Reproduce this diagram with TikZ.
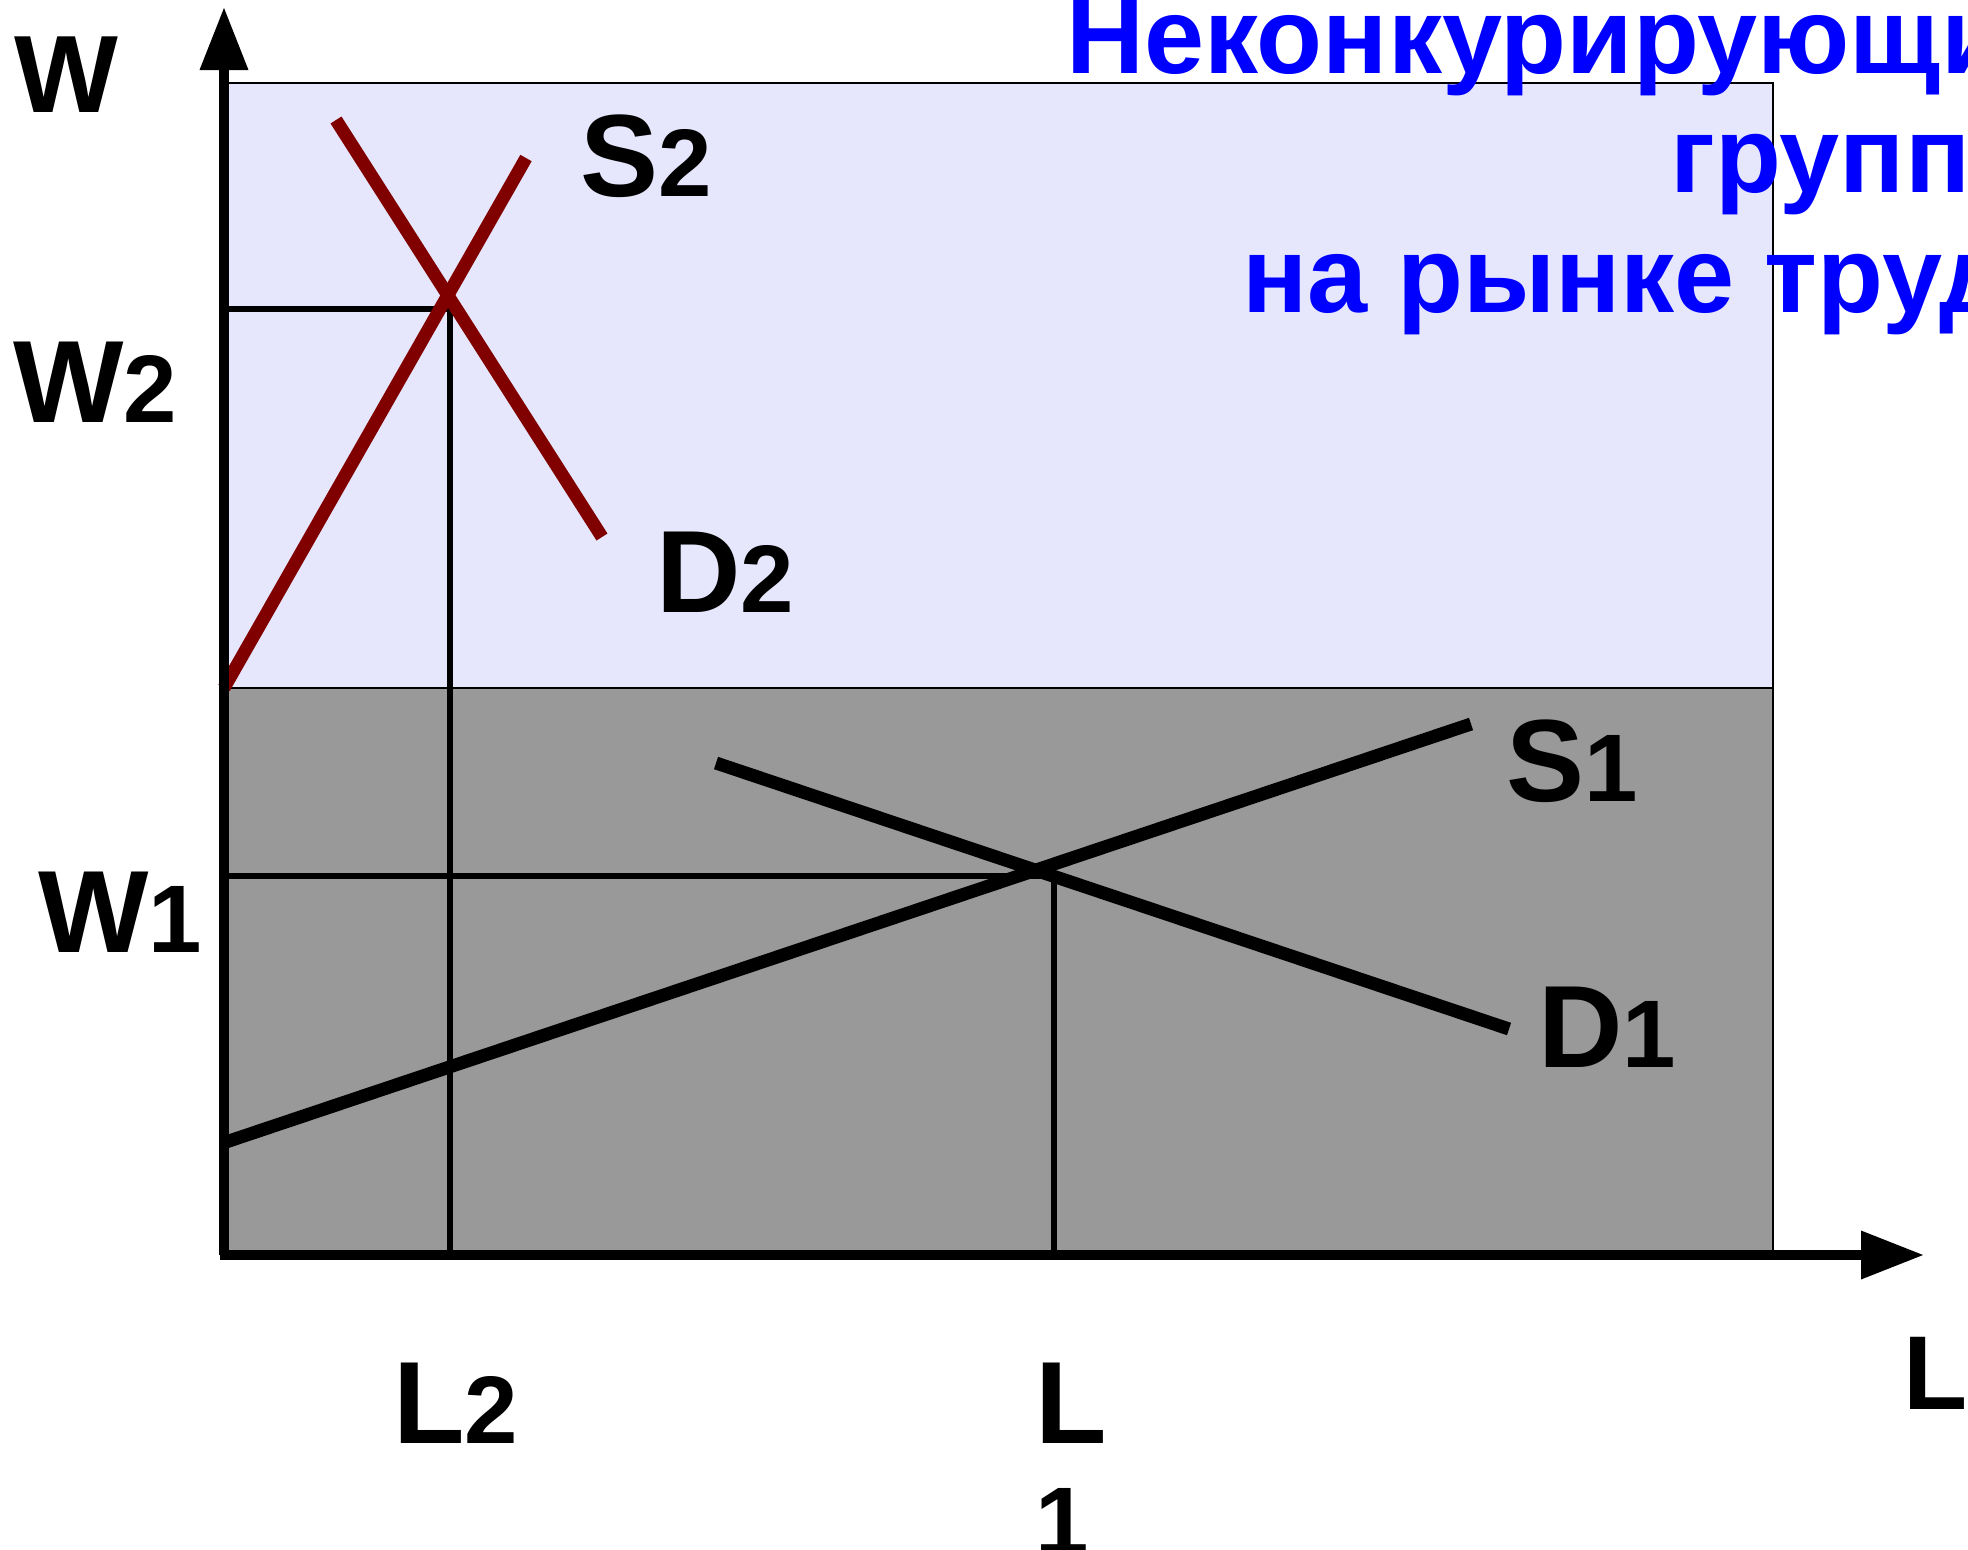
\documentclass[tikz,border=0pt]{standalone}
\usepackage{fontspec}
\setmainfont{Liberation Sans}
\usetikzlibrary{arrows.meta}
\definecolor{lav}{RGB}{230,230,252}
\definecolor{grayfill}{RGB}{153,153,153}
\definecolor{dred}{RGB}{128,0,0}
\newcommand\dig[1]{{\fontsize{96}{96}\selectfont #1}}
\begin{document}
\begin{tikzpicture}[x=1pt,y=-1pt,
  lab/.style={anchor=base west, inner sep=0pt, font=\bfseries\fontsize{117}{117}\selectfont},
  axis/.style={line width=10pt, -{Triangle[length=63pt,width=46pt]}},
  guide/.style={line width=6pt},
  border/.style={line width=2pt},
  curveA/.style={line width=13pt, dred},
  curveB/.style={line width=13pt, black}]
\useasboundingbox (0,0) rectangle (1968,1550);
\clip (0,0) rectangle (1968,1550);
% regions
\fill[lav] (227,83) rectangle (1773,688);
\draw[border] (227,83) rectangle (1773,688);
\draw[border, fill=grayfill] (227,688) rectangle (1773,1253);
% coordinates
\coordinate (o) at (224,1255);
\coordinate (ytip) at (224,7);
\coordinate (xo) at (220,1255);
\coordinate (xtip) at (1924,1255);
\coordinate (w2) at (226,309);
\coordinate (e2) at (450,309);
\coordinate (l2) at (450,1253);
\coordinate (w1) at (226,876);
\coordinate (e1) at (1054,876);
\coordinate (l1) at (1054,1253);
\coordinate (s2a) at (224,688);
\coordinate (s2b) at (526,158);
\coordinate (d2a) at (336,120);
\coordinate (d2b) at (602,537);
\coordinate (s1a) at (223,1143);
\coordinate (s1b) at (1471,724);
\coordinate (d1a) at (716,763);
\coordinate (d1b) at (1509,1029);
% guide lines
\draw[guide] (w2) -- (e2) -- (l2);
\draw[guide] (w1) -- (e1) -- (l1);
% curves
\draw[curveA] (s2a) -- (s2b);
\draw[curveA] (d2a) -- (d2b);
\draw[curveB] (s1a) -- (s1b);
\draw[curveB] (d1a) -- (d1b);
% axes
\draw[axis] (o) -- (ytip);
\draw[axis] (xo) -- (xtip);
% title
\node[anchor=base west, inner sep=0pt, text=blue, font=\bfseries\fontsize{108}{119.5}\selectfont] (title) at (1066,73)
  {\vtop{\hbox{Неконкурирующие}\hbox{\kern604pt группы}\hbox{\kern176pt на рынке труда}}};
% labels
\node[lab] (W) at (14,112) {\fontsize{110}{110}\selectfont W};
\node[lab] (W2) at (13,422) {W\dig{2}};
\node[lab] (W1) at (38,952) {W\dig{1}};
\node[lab] (S2) at (580,196) {S\dig{2}};
\node[lab] (D2) at (656,612) {D\dig{2}};
\node[lab] (S1) at (1506,801) {S\dig{1}};
\node[lab] (D1) at (1538,1067) {D\dig{1}};
\node[lab] (L2) at (393,1443) {L\dig{2}};
\node[lab] (L1) at (1035,1443) {\vtop{\baselineskip=111pt\hbox{L}\hbox{\dig{1}}}};
\node[lab] (L) at (1903,1409) {\fontsize{105}{105}\selectfont L};
\end{tikzpicture}
\end{document}
